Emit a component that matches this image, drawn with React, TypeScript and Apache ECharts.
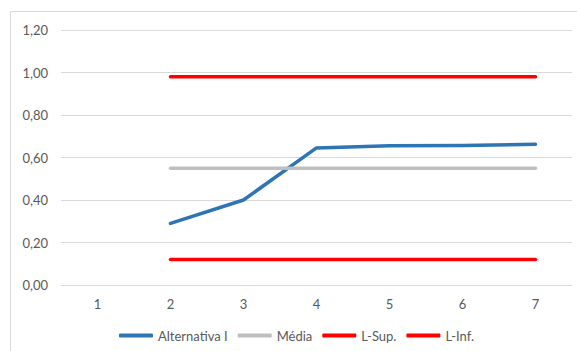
import React, { useEffect, useRef } from "react";
import * as echarts from "echarts";

const categories = ["1", "2", "3", "4", "5", "6", "7"];
const alternativaI = [null, 0.29, 0.4, 0.645, 0.655, 0.656, 0.662];
const media = [null, 0.55, 0.55, 0.55, 0.55, 0.55, 0.55];
const limiteSuperior = [null, 0.98, 0.98, 0.98, 0.98, 0.98, 0.98];
const limiteInferior = [null, 0.12, 0.12, 0.12, 0.12, 0.12, 0.12];

const FONT = "Lato";
const TEXT_COLOR = "#595959";
const GRID_COLOR = "#d9d9d9";

export default function App() {
  const ref = useRef<HTMLDivElement>(null);

  useEffect(() => {
    if (!ref.current) return;
    const chart = echarts.init(ref.current, undefined, { renderer: "svg" });

    const lineSeries = (name: string, data: (number | null)[], color: string) => ({
      name,
      type: "line",
      data,
      symbol: "none",
      connectNulls: false,
      lineStyle: { color, width: 3.5, cap: "round", join: "round" },
      itemStyle: { color },
    });

    chart.setOption({
      animation: false,
      backgroundColor: "#ffffff",
      textStyle: { fontFamily: FONT },
      graphic: [
        {
          type: "rect",
          shape: { x: 10.5, y: 11.5, width: 600, height: 400 },
          style: { fill: "none", stroke: GRID_COLOR, lineWidth: 1 },
          silent: true,
        },
      ],
      grid: { left: 61, right: 5, top: 30, bottom: 66, containLabel: false },
      xAxis: {
        type: "category",
        data: categories,
        boundaryGap: true,
        axisLine: { show: true, lineStyle: { color: GRID_COLOR, width: 1 } },
        axisTick: { show: false },
        axisLabel: { color: TEXT_COLOR, fontSize: 13, fontFamily: FONT, margin: 12 },
      },
      yAxis: {
        type: "value",
        min: 0,
        max: 1.2,
        interval: 0.2,
        axisLine: { show: false },
        axisTick: { show: false },
        splitLine: { lineStyle: { color: GRID_COLOR, width: 1 } },
        axisLabel: {
          color: TEXT_COLOR,
          fontSize: 13,
          fontFamily: FONT,
          margin: 13,
          formatter: (v: number) => v.toFixed(2).replace(".", ","),
        },
      },
      legend: {
        left: 114,
        top: 324,
        itemWidth: 34,
        itemHeight: 4,
        itemGap: 10,
        icon: "roundRect",
        textStyle: { color: TEXT_COLOR, fontSize: 13, fontFamily: FONT },
        data: ["Alternativa I", "Média", "L-Sup.", "L-Inf."],
      },
      series: [
        lineSeries("Alternativa I", alternativaI, "#2e75b6"),
        lineSeries("Média", media, "#bfbfbf"),
        lineSeries("L-Sup.", limiteSuperior, "#ff0000"),
        lineSeries("L-Inf.", limiteInferior, "#ff0000"),
      ],
    });

    return () => chart.dispose();
  }, []);

  return (
    <div
      ref={ref}
      style={{ position: "fixed", left: 0, top: 0, width: 577, height: 351 }}
    />
  );
}
